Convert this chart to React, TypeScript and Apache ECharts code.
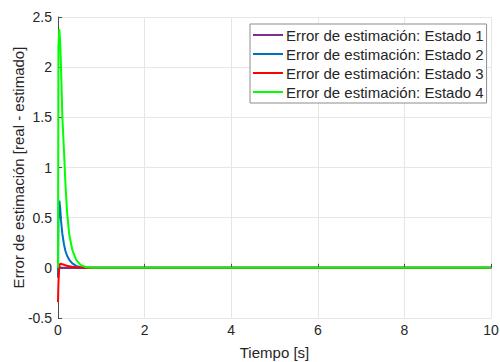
import React, { useEffect, useRef } from "react";
import * as echarts from "echarts";

const time = [0, 0.01, 0.03, 0.05, 0.07, 0.1, 0.14, 0.17, 0.21, 0.26, 0.33, 0.42, 0.52, 0.65, 0.8, 1, 10];
const estado1 = [-0.1, -0.02, 0, 0.003, 0.003, 0.002, 0.001, 0.001, 0, 0, 0, 0, 0, 0, 0, 0, 0];
const estado2 = [-0.08, 0.45, 0.67, 0.6, 0.47, 0.34, 0.23, 0.17, 0.12, 0.08, 0.045, 0.02, 0.006, 0.001, 0, 0, 0];
const estado3 = [-0.34, -0.15, 0.02, 0.04, 0.04, 0.035, 0.03, 0.025, 0.02, 0.015, 0.01, 0.006, 0.003, 0.001, 0, 0, 0];
const estado4 = [0, 2.2, 2.38, 2.25, 2.0, 1.51, 1.15, 0.85, 0.55, 0.33, 0.18, 0.08, 0.03, 0.006, 0.001, 0, 0];

const seriesNames = [
  "Error de estimación: Estado 1",
  "Error de estimación: Estado 2",
  "Error de estimación: Estado 3",
  "Error de estimación: Estado 4",
];
const seriesValues = [estado1, estado2, estado3, estado4];
const seriesColors = ["#7E2F8E", "#0072BD", "#FF0000", "#00FF00"];

export default function App() {
  const ref = useRef<HTMLDivElement>(null);
  useEffect(() => {
    const chart = echarts.init(ref.current!, null, { renderer: "svg" });
    const font = "Liberation Sans, Arial, sans-serif";
    chart.setOption({
      animation: false,
      backgroundColor: "#ffffff",
      grid: { left: 58, right: 9, top: 17, bottom: 44, containLabel: false, outerBoundsMode: "none" },
      legend: {
        orient: "vertical",
        left: 250,
        top: 24,
        padding: [3, 3, 3, 3],
        itemGap: 3,
        itemWidth: 30,
        itemHeight: 2,
        icon: "rect",
        borderColor: "#8c8c8c",
        borderWidth: 1,
        backgroundColor: "#ffffff",
        textStyle: { fontFamily: font, fontSize: 15, lineHeight: 16, color: "#262626", padding: [0, 0, 0, -2] },
        data: seriesNames.map((n, i) => ({ name: n, itemStyle: { color: seriesColors[i] } })),
      },
      xAxis: {
        type: "value",
        min: 0,
        max: 10,
        interval: 2,
        name: "Tiempo [s]",
        nameLocation: "middle",
        nameGap: 27,
        nameMoveOverlap: false,
        nameTextStyle: { fontFamily: font, fontSize: 15, color: "#262626" },
        axisLine: { show: true, lineStyle: { color: "#4d4d4d", width: 1 } },
        axisTick: { show: true, inside: true, length: 4, lineStyle: { color: "#4d4d4d" } },
        axisLabel: { fontFamily: font, fontSize: 14, color: "#262626", margin: 5 },
        splitLine: { show: true, lineStyle: { color: "#e6e6e6", width: 1 } },
      },
      yAxis: {
        type: "value",
        min: -0.5,
        max: 2.5,
        interval: 0.5,
        name: "Error de estimación [real - estimado]",
        nameLocation: "middle",
        nameGap: 32,
        nameMoveOverlap: false,
        nameTextStyle: { fontFamily: font, fontSize: 15, color: "#262626" },
        axisLine: { show: true, lineStyle: { color: "#4d4d4d", width: 1 } },
        axisTick: { show: true, inside: true, length: 4, lineStyle: { color: "#4d4d4d" } },
        axisLabel: { fontFamily: font, fontSize: 14, color: "#262626", margin: 6 },
        splitLine: { show: true, lineStyle: { color: "#e6e6e6", width: 1 } },
      },
      series: seriesNames.map((name, i) => ({
        name,
        type: "line",
        showSymbol: false,
        symbol: "none",
        smooth: false,
        color: seriesColors[i],
        lineStyle: { width: 2, color: seriesColors[i] },
        data: time.map((t, k) => [t, seriesValues[i][k]]),
      })),
    });
    return () => chart.dispose();
  }, []);
  return (
    <div
      ref={ref}
      style={{ position: "fixed", left: 0, top: 0, width: 500, height: 362 }}
    />
  );
}
